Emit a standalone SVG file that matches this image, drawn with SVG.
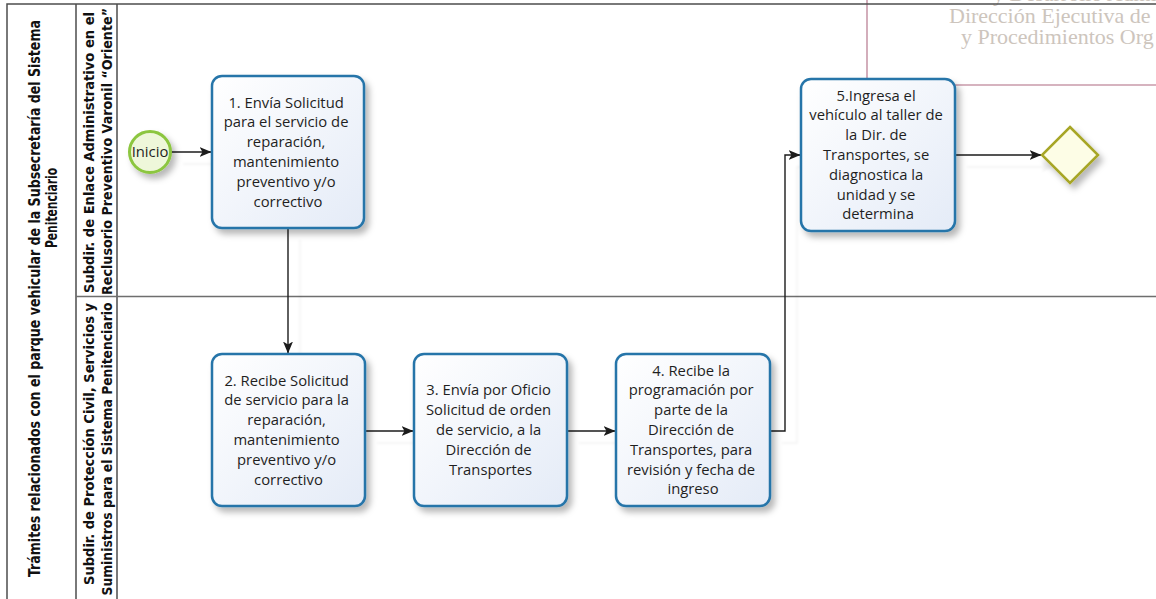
<svg xmlns="http://www.w3.org/2000/svg" width="1156" height="599" viewBox="0 0 1156 599">
  <defs>
    <linearGradient id="taskFill" x1="0" y1="0" x2="1" y2="1">
      <stop offset="0" stop-color="#ffffff"/>
      <stop offset="1" stop-color="#e4ebf7"/>
    </linearGradient>
    <filter id="shadow" x="-20%" y="-20%" width="150%" height="150%">
      <feDropShadow dx="4" dy="5" stdDeviation="3" flood-color="#000" flood-opacity="0.28"/>
    </filter>
    <filter id="lineShadow" x="-5%" y="-5%" width="120%" height="120%">
      <feDropShadow dx="12" dy="12" stdDeviation="1" flood-color="#000" flood-opacity="0.05"/>
    </filter>
    <marker id="arrow" viewBox="0 0 12 10" markerWidth="12" markerHeight="10" refX="11.5" refY="5" orient="auto" markerUnits="userSpaceOnUse">
      <path d="M0,0 L12,5 L0,10 L3,5 z" fill="#1a1a1a"/>
    </marker>
    <style>
      .frame { stroke: #4d4d4d; stroke-width: 1.5; fill: none; }
      .lane-sep { stroke: #6e6e6e; stroke-width: 1.5; fill: none; }
      .vlabel { font-family: "Liberation Sans Narrow", "DejaVu Sans Condensed", "Roboto Condensed", "Liberation Sans", sans-serif; font-weight: bold; fill: #111; text-anchor: middle; }
      .task rect { fill: url(#taskFill); stroke: #2574a9; stroke-width: 2.5; filter: url(#shadow); }
      .label { font-family: "Open Sans", "Noto Sans", "DejaVu Sans", sans-serif; font-size: 14.8px; fill: #1f1f1f; text-anchor: middle; }
      .conn { stroke: #1a1a1a; stroke-width: 1.4; fill: none; marker-end: url(#arrow); }
      .wm { font-family: "Liberation Serif", "DejaVu Serif", serif; font-size: 22px; fill: #cdc5bd; }
    </style>
  </defs>

  <rect width="1156" height="599" fill="#ffffff"/>

  <!-- header stamp box (top right) -->
  <g id="stamp">
    <text class="wm" x="993" y="0.5">y Desarrollo Administrativo</text>
    <text class="wm" x="949" y="22.5">Dirección Ejecutiva de</text>
    <text class="wm" x="961" y="44">y Procedimientos Org</text>
    <path d="M867,-2 V85 H1158" fill="none" stroke="#c99aab" stroke-width="1.6"/>
  </g>

  <!-- pool and lanes -->
  <g id="pool">
    <path class="frame" d="M1156,4 H7 V599"/>
    <path class="frame" d="M76,4 V599 M117,4 V599"/>
    <path class="lane-sep" d="M76,296.5 H1156"/>
    <text class="vlabel" font-size="15" transform="translate(40,298.5) rotate(-90)" textLength="557" lengthAdjust="spacingAndGlyphs">Trámites relacionados con el parque vehicular de la Subsecretaría del Sistema</text>
    <text class="vlabel" font-size="15" transform="translate(57,208) rotate(-90)" textLength="80" lengthAdjust="spacingAndGlyphs">Penitenciario</text>
  </g>
  <g id="lane-enlace">
    <text class="vlabel" font-size="14" transform="translate(93.5,152.5) rotate(-90)" textLength="281" lengthAdjust="spacingAndGlyphs">Subdir. de Enlace Administrativo en el</text>
    <text class="vlabel" font-size="14" transform="translate(111.5,151.5) rotate(-90)" textLength="287" lengthAdjust="spacingAndGlyphs">Reclusorio Preventivo Varonil “Oriente”</text>
  </g>
  <g id="lane-proteccion">
    <text class="vlabel" font-size="14" transform="translate(93.5,444) rotate(-90)" textLength="282" lengthAdjust="spacingAndGlyphs">Subdir. de Protección Civil, Servicios y</text>
    <text class="vlabel" font-size="14" transform="translate(111.5,449) rotate(-90)" textLength="293" lengthAdjust="spacingAndGlyphs">Suministros para el Sistema Penitenciario</text>
  </g>

  <!-- connectors -->
  <g id="connectors" filter="url(#lineShadow)">
    <path class="conn" d="M171,152 H211"/>
    <path class="conn" d="M288,228 V353"/>
    <path class="conn" d="M365,431 H413"/>
    <path class="conn" d="M567,431 H615"/>
    <path class="conn" d="M770,431 H785 V155 H800"/>
    <path class="conn" d="M955,155 H1041"/>
  </g>

  <!-- start event -->
  <g id="start">
    <circle cx="150" cy="152" r="20.5" fill="#eef7da" stroke="#8cc63f" stroke-width="3" filter="url(#shadow)"/>
    <text class="label" x="150" y="157">Inicio</text>
  </g>

  <!-- tasks -->
  <g id="task1" class="task">
    <rect x="212" y="76" width="152" height="152" rx="10"/>
    <text class="label" y="107.5">
      <tspan x="288">1. Envía Solicitud</tspan>
      <tspan x="288" dy="19.8">para el servicio de</tspan>
      <tspan x="288" dy="19.8">reparación,</tspan>
      <tspan x="288" dy="19.8">mantenimiento</tspan>
      <tspan x="288" dy="19.8">preventivo y/o</tspan>
      <tspan x="288" dy="19.8">correctivo</tspan>
    </text>
  </g>

  <g id="task2" class="task">
    <rect x="212" y="354" width="153" height="152" rx="10"/>
    <text class="label" y="385.5">
      <tspan x="288.5">2. Recibe Solicitud</tspan>
      <tspan x="288.5" dy="19.8">de servicio para la</tspan>
      <tspan x="288.5" dy="19.8">reparación,</tspan>
      <tspan x="288.5" dy="19.8">mantenimiento</tspan>
      <tspan x="288.5" dy="19.8">preventivo y/o</tspan>
      <tspan x="288.5" dy="19.8">correctivo</tspan>
    </text>
  </g>

  <g id="task3" class="task">
    <rect x="414" y="354" width="153" height="152" rx="10"/>
    <text class="label" y="395.4">
      <tspan x="490.5">3. Envía por Oficio</tspan>
      <tspan x="490.5" dy="19.8">Solicitud de orden</tspan>
      <tspan x="490.5" dy="19.8">de servicio, a la</tspan>
      <tspan x="490.5" dy="19.8">Dirección de</tspan>
      <tspan x="490.5" dy="19.8">Transportes</tspan>
    </text>
  </g>

  <g id="task4" class="task">
    <rect x="616" y="354" width="154" height="152" rx="10"/>
    <text class="label" y="375.6">
      <tspan x="693">4. Recibe la</tspan>
      <tspan x="693" dy="19.8">programación por</tspan>
      <tspan x="693" dy="19.8">parte de la</tspan>
      <tspan x="693" dy="19.8">Dirección de</tspan>
      <tspan x="693" dy="19.8">Transportes, para</tspan>
      <tspan x="693" dy="19.8">revisión y fecha de</tspan>
      <tspan x="693" dy="19.8">ingreso</tspan>
    </text>
  </g>

  <g id="task5" class="task">
    <rect x="801" y="79" width="154" height="152" rx="10"/>
    <text class="label" y="100.6">
      <tspan x="878">5.Ingresa el</tspan>
      <tspan x="878" dy="19.8">vehículo al taller de</tspan>
      <tspan x="878" dy="19.8">la Dir. de</tspan>
      <tspan x="878" dy="19.8">Transportes, se</tspan>
      <tspan x="878" dy="19.8">diagnostica la</tspan>
      <tspan x="878" dy="19.8">unidad y se</tspan>
      <tspan x="878" dy="19.8">determina</tspan>
    </text>
  </g>

  <!-- gateway -->
  <g id="gateway">
    <path d="M1070,127 L1098,155 L1070,183 L1042,155 Z" fill="#fdfde6" stroke="#a7a626" stroke-width="2.5" filter="url(#shadow)"/>
  </g>
</svg>
